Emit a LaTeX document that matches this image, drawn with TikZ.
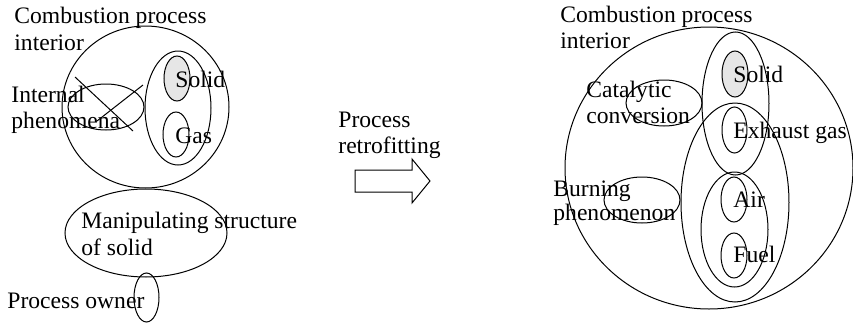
\documentclass[tikz,border=0pt]{standalone}
\usepackage{fontspec}
\setmainfont{Liberation Serif}
\usetikzlibrary{shapes.geometric}
\definecolor{solidgray}{HTML}{E6E6E6}
\tikzset{
  ell/.style={ellipse, draw, line width=0.5pt, inner sep=0pt},
  lbl/.style={anchor=base west, inner sep=0pt, font=\fontsize{11.8pt}{13.5pt}\selectfont},
}
\begin{document}
\begin{tikzpicture}[x=0.5pt,y=-0.5pt]
\useasboundingbox (0,0) rectangle (853,322);
% ---------- left diagram ----------
\node[ell, minimum width=167pt*0.5, minimum height=162pt*0.5] (lbig) at (145.5,107) {};
\node[ell, minimum width=33pt, minimum height=57pt] (lsg) at (178,108) {};
\node[ell, fill=solidgray, minimum width=13pt, minimum height=22.5pt] (lsolid) at (177,78.5) {};
\node[ell, minimum width=13pt, minimum height=22.5pt] (lgas) at (176,134.5) {};
\node[ell, minimum width=38pt, minimum height=23pt] (lint) at (106,107) {};
\node[ell, minimum width=81pt, minimum height=44pt] (lman) at (146,233) {};
\node[ell, minimum width=12.5pt, minimum height=24.5pt] (lown) at (146.5,297.5) {};
\coordinate (x1a) at (75,77);
\coordinate (x1b) at (133,131);
\coordinate (x2a) at (143,85);
\coordinate (x2b) at (97,121);
\draw[line width=0.5pt] (x1a) -- (x1b);
\draw[line width=0.5pt] (x2a) -- (x2b);
\node[lbl] (lt1) at (14,23) {Combustion process};
\node[lbl] (lt2) at (14,50) {interior};
\node[lbl] (lsolidt) at (175,87) {Solid};
\node[lbl] (lgast) at (175,143) {Gas};
\node[lbl] (lint1) at (11,102) {Internal};
\node[lbl] (lint2) at (11,128) {phenomena};
\node[lbl] (lman1) at (81,228) {Manipulating structure};
\node[lbl] (lman2) at (81,255) {of solid};
\node[lbl] (lownt) at (7,308) {Process owner};
% ---------- arrow ----------
\draw[line width=0.5pt] (355,170) -- (412,170) -- (412,159) -- (430,181) -- (412,203) -- (412,192) -- (355,192) -- cycle;
\node[lbl] (ar1) at (338,127) {Process};
\node[lbl] (ar2) at (338,153) {retrofitting};
% ---------- right diagram ----------
\node[ell, minimum width=144pt, minimum height=141pt] (rbig) at (709,168) {};
\node[ell, minimum width=33.5pt, minimum height=71.5pt] (rse) at (735.5,103.5) {};
\node[ell, fill=solidgray, minimum width=13pt, minimum height=23pt] (rsolid) at (735,74) {};
\node[ell, minimum width=12.5pt, minimum height=23pt] (rexh) at (734.5,130) {};
\node[ell, minimum width=54pt, minimum height=99.5pt] (rlarge) at (735,202.5) {};
\node[ell, minimum width=33.5pt, minimum height=57.5pt] (raf) at (734.5,229.5) {};
\node[ell, minimum width=13pt, minimum height=22.5pt] (rair) at (734,199.5) {};
\node[ell, minimum width=13pt, minimum height=22.5pt] (rfuel) at (734,255.5) {};
\node[ell, minimum width=38pt, minimum height=23pt] (rcat) at (664,103) {};
\node[ell, minimum width=38pt, minimum height=23pt] (rburn) at (642,200) {};
\node[lbl] (rt1) at (560,22) {Combustion process};
\node[lbl] (rt2) at (560,48) {interior};
\node[lbl] (rsolidt) at (733,82) {Solid};
\node[lbl] (rcat1) at (586,97) {Catalytic};
\node[lbl] (rcat2) at (586,123) {conversion};
\node[lbl] (rexht) at (733,138) {Exhaust gas};
\node[lbl] (rburn1) at (553,196) {Burning};
\node[lbl] (rburn2) at (553,220) {phenomenon};
\node[lbl] (rairt) at (733,207) {Air};
\node[lbl] (rfuelt) at (733,262) {Fuel};
\end{tikzpicture}
\end{document}
